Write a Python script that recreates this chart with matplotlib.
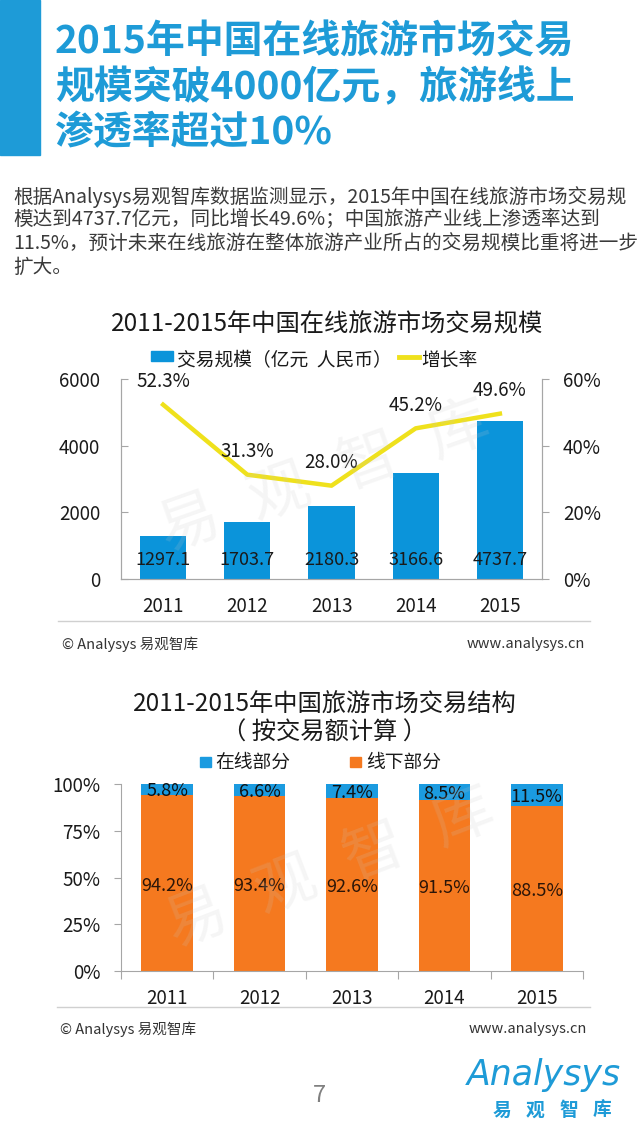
import numpy as np
import matplotlib
matplotlib.use('Agg')
import matplotlib.pyplot as plt
from matplotlib.patches import Rectangle
from matplotlib.lines import Line2D

# data
years = ['2011', '2012', '2013', '2014', '2015']
trade_scale = [1297.1, 1703.7, 2180.3, 3166.6, 4737.7]   # 亿元 人民币
growth = [52.3, 31.3, 28.0, 45.2, 49.6]                  # %
online = [5.8, 6.6, 7.4, 8.5, 11.5]                      # 在线部分 %
offline = [94.2, 93.4, 92.6, 91.5, 88.5]                 # 线下部分 %

title_lines = ['2015年中国在线旅游市场交易',
               '规模突破4000亿元，旅游线上',
               '渗透率超过10%']
body_lines = ['根据Analysys易观智库数据监测显示，2015年中国在线旅游市场交易规',
              '模达到4737.7亿元，同比增长49.6%；中国旅游产业线上渗透率达到',
              '11.5%，预计未来在线旅游在整体旅游产业所占的交易规模比重将进一步',
              '扩大。']

TBLUE = '#1e9bd7'
BAR1 = '#0b94da'
BLUE2 = '#1b9be0'
ORANGE = '#f5791f'
YELLOW = '#efe11c'
AXC = '#a6a6a6'
TXT = '#1a1a1a'

W, H = 640, 1138
plt.rcParams['font.family'] = ['Noto Sans CJK SC', 'DejaVu Sans']

fig = plt.figure(figsize=(W / 100, H / 100), dpi=100)


def fx(x):
    return x / W


def fy(y):
    return 1 - y / H


def box(l, t, r, b):
    return [l / W, 1 - b / H, (r - l) / W, (b - t) / H]


def watermark(p0, p1):
    # faint "易观智库" stamp along a slanted line
    ang = np.degrees(np.arctan2(p0[1] - p1[1], p1[0] - p0[0]))
    for k, ch in enumerate('易观智库'):
        t = k / 3
        xx = p0[0] + t * (p1[0] - p0[0])
        yy = p0[1] + t * (p1[1] - p0[1])
        fig.text(fx(xx), fy(yy), ch, fontsize=44, color='#c8c8c8', alpha=0.17,
                 rotation=ang, ha='center', va='center', zorder=5)


# header block
fig.patches.append(Rectangle((0, fy(155)), fx(40), 155 / H, transform=fig.transFigure,
                             color=TBLUE, zorder=1))
for i, s in enumerate(title_lines):
    fig.text(fx(55), fy(42 + i * 45.5), s, fontsize=28, fontweight='bold', color=TBLUE,
             va='center', ha='left')
for i, s in enumerate(body_lines):
    fig.text(fx(13), fy(197 + i * 23.5), s, fontsize=14.1, color='#3a3a3a',
             va='center', ha='left')

# ---------- chart 1 ----------
x = np.arange(len(years))
fig.text(fx(327), fy(325), '2011-2015年中国在线旅游市场交易规模', fontsize=17.5,
         color=TXT, ha='center', va='center')
fig.patches.append(Rectangle((fx(151), fy(361)), 22 / W, 10 / H, transform=fig.transFigure,
                             color=BAR1))
fig.text(fx(177), fy(361), '交易规模（亿元  人民币）', fontsize=13.5, color=TXT, va='center')
fig.lines.append(Line2D([fx(399), fx(419)], [fy(357), fy(357)], transform=fig.transFigure,
                        color=YELLOW, lw=3.5))
fig.text(fx(421), fy(361), '增长率', fontsize=13.5, color=TXT, va='center')

ax1 = fig.add_axes(box(121, 379, 542, 579))
ax1.bar(x, trade_scale, width=0.55, color=BAR1, zorder=2)
ax1.set_xlim(-0.5, len(years) - 0.5)
ax1.set_ylim(0, 6000)
ax1.set_yticks([0, 2000, 4000, 6000])
ax1.set_xticks(x)
ax1.set_xticklabels(years)
ax1.spines['top'].set_visible(False)
for sp in ['left', 'right', 'bottom']:
    ax1.spines[sp].set_color(AXC)
ax1.tick_params(axis='y', direction='in', length=5, color=AXC, labelsize=13.5, pad=15,
                labelcolor=TXT)
ax1.tick_params(axis='x', length=0, labelsize=13.5, pad=12, labelcolor=TXT)
for i, v in enumerate(trade_scale):
    ax1.text(i, 570, f'{v:.1f}', ha='center', va='center', fontsize=13, color=TXT, zorder=4)

ax1r = ax1.twinx()
ax1r.plot(x, growth, color=YELLOW, lw=3.2, zorder=3)
ax1r.set_ylim(0, 60)
ax1r.set_yticks([0, 20, 40, 60])
ax1r.set_yticklabels([f'{t}%' for t in [0, 20, 40, 60]])
ax1r.spines['top'].set_visible(False)
for sp in ['left', 'right', 'bottom']:
    ax1r.spines[sp].set_color(AXC)
ax1r.tick_params(axis='y', direction='out', length=5, color=AXC, labelsize=13.5, pad=10,
                 labelcolor=TXT)
for i, g in enumerate(growth):
    ax1r.annotate(f'{g:.1f}%', (i, g), xytext=(0, 16.5), textcoords='offset points',
                  ha='center', va='center', fontsize=13.5, color=TXT)

fig.lines.append(Line2D([fx(58), fx(590)], [fy(621), fy(621)], transform=fig.transFigure,
                        color='#d0d0d0', lw=1))
fig.text(fx(62), fy(644), '© Analysys 易观智库', fontsize=10.5, color='#333333', va='center')
fig.text(fx(585), fy(644), 'www.analysys.cn', fontsize=10.5, color='#333333', va='center',
         ha='right')
watermark((190, 525), (458, 430))

# ---------- chart 2 ----------
fig.text(fx(325), fy(705), '2011-2015年中国旅游市场交易结构', fontsize=17.5, color=TXT,
         ha='center', va='center')
fig.text(fx(325), fy(733), '（ 按交易额计算 ）', fontsize=17.5, color=TXT,
         ha='center', va='center')
fig.patches.append(Rectangle((fx(200), fy(767)), 11 / W, 10 / H, transform=fig.transFigure,
                             color=BLUE2))
fig.text(fx(215), fy(762), '在线部分', fontsize=13.5, color=TXT, va='center')
fig.patches.append(Rectangle((fx(350), fy(767)), 11 / W, 10 / H, transform=fig.transFigure,
                             color=ORANGE))
fig.text(fx(366), fy(762), '线下部分', fontsize=13.5, color=TXT, va='center')

ax2 = fig.add_axes(box(121, 784, 583, 971))
ax2.bar(x, offline, width=0.56, color=ORANGE, zorder=2)
ax2.bar(x, online, width=0.56, bottom=offline, color=BLUE2, zorder=2)
ax2.set_xlim(-0.5, len(years) - 0.5)
ax2.set_ylim(0, 100)
ax2.set_yticks([0, 25, 50, 75, 100])
ax2.set_yticklabels([f'{t}%' for t in [0, 25, 50, 75, 100]])
ax2.set_xticks(np.arange(-0.5, len(years)))
ax2.set_xticklabels([])
ax2.set_xticks(x, minor=True)
ax2.set_xticklabels(years, minor=True)
for sp in ['top', 'right']:
    ax2.spines[sp].set_visible(False)
for sp in ['left', 'bottom']:
    ax2.spines[sp].set_color(AXC)
ax2.tick_params(axis='y', direction='out', length=5, color=AXC, labelsize=13.5, pad=10,
                labelcolor=TXT)
ax2.tick_params(axis='x', which='major', direction='out', length=6, color=AXC)
ax2.tick_params(axis='x', which='minor', length=0, labelsize=13.5, pad=12, labelcolor=TXT)
for i in range(len(years)):
    ax2.text(i, 100 - online[i] / 2 - 1, f'{online[i]:.1f}%', ha='center', va='center',
             fontsize=13, color='#111111', zorder=4)
    ax2.text(i, offline[i] / 2 - 1.5, f'{offline[i]:.1f}%', ha='center', va='center',
             fontsize=13, color='#2b1508', zorder=4)

fig.lines.append(Line2D([fx(57), fx(590)], [fy(1007), fy(1007)], transform=fig.transFigure,
                        color='#d0d0d0', lw=1))
fig.text(fx(60), fy(1029), '© Analysys 易观智库', fontsize=10.5, color='#333333', va='center')
fig.text(fx(587), fy(1029), 'www.analysys.cn', fontsize=10.5, color='#333333', va='center',
         ha='right')
watermark((197, 920), (463, 818))

# page footer
fig.text(fx(319), fy(1095), '7', fontsize=17, color='#808080', ha='center', va='center')
fig.text(fx(544), fy(1075), 'Analysys', fontsize=25, color=TBLUE, style='italic',
         ha='center', va='center', family='DejaVu Sans')
for k, ch in enumerate('易观智库'):
    fig.text(fx(502 + k * 33.3), fy(1110), ch, fontsize=13.5, fontweight='bold', color=TBLUE,
             ha='center', va='center')

fig.savefig('out.png', dpi=100)
